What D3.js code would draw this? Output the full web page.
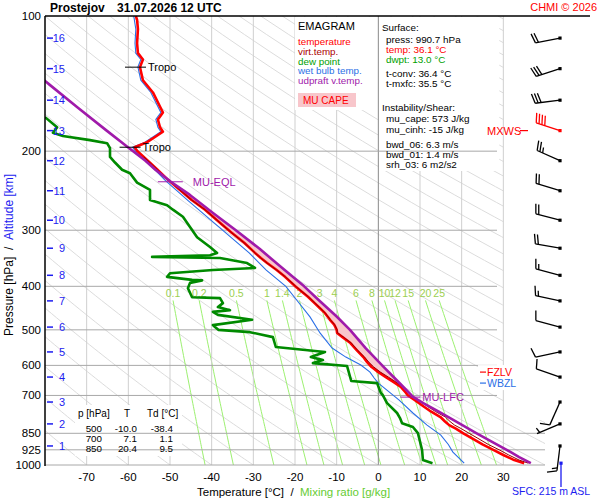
<!DOCTYPE html>
<html><head><meta charset="utf-8">
<script src="https://cdn.jsdelivr.net/npm/d3@7"></script>
<style>body{margin:0;background:#fff}svg text{font-family:"Liberation Sans",Arial,sans-serif}</style>
</head><body><svg id="c" width="600" height="500"></svg>
<script>
// ---------------- data ----------------
const stationName = "Prostejov";
const runTime = "31.07.2026 12 UTC";
const pressureTicks = [100,200,300,400,500,600,700,850,925,1000];
const tempTicks = [-70,-60,-50,-40,-30,-20,-10,0,10,20,30];
const mixRatios = [0.1,0.2,0.5,1,1.4,2,3,4,6,8,10,12,15,20,25];

const tempP = [100,102,107,115,121,125,130,139,148,164,170,177,181,186,191,196,200,206,220,232,244,257,270,292,304,320,337,346,355,368,381,401,422,436,446,459,475,487,493,500,508,519,535,555,575,590,605,621,637,653,670,690,700,716,740,760,782,800,815,830,850,870,900,925,950,975,990.7];
const tempT = [-58.2,-57.9,-57.7,-57.9,-57.7,-56.5,-57.2,-56.5,-54.1,-51.7,-52.9,-52.4,-51.7,-53.6,-55.5,-58.5,-57.8,-56.3,-53.0,-50.4,-47.6,-44.8,-41.6,-37.4,-35.2,-32.2,-29.6,-28.2,-26.7,-24.4,-22.4,-19.8,-16.9,-15.3,-14.2,-12.8,-11.6,-10.6,-10.3,-10.0,-9.9,-8.6,-6.7,-5.2,-3.6,-2.7,-1.6,0.0,1.8,3.6,5.4,6.6,7.1,8.7,10.8,12.6,14.9,16.0,17.0,18.6,20.4,22.3,25.0,27.6,30.0,32.6,35.0];

const virtP = [206,220,232,244,257,270,292,304,320,337,346,355,368,381,401,422,436,446,459,475,487,493,500,508,519,535,555,575,590,605,621,637,653,670,690,700,716,740,760,782,800,815,830,850,870,900,925,950,975,990.7];
const virtT = [-56.3,-53.0,-50.4,-47.6,-44.8,-41.6,-37.4,-35.2,-32.2,-29.6,-28.2,-26.7,-24.4,-22.3,-19.7,-16.8,-15.2,-14.1,-12.7,-11.5,-10.5,-10.2,-9.9,-9.8,-8.4,-6.5,-5.0,-3.3,-2.3,-1.1,0.5,2.4,4.2,6.0,7.3,7.9,9.6,11.8,13.7,16.1,17.2,18.3,19.9,21.8,23.7,26.4,29.0,31.3,33.8,36.0];

const dewP = [168,177,182,185,189,192,197,206,212,220,224,235,244,257,264,270,280,295,311,327,337,341,344,346,355,364,368,374,381,387,388,393,404,423,425,436,445,452,456,463,475,488,493,500,506,519,546,560,575,584,593,602,650,657,691,700,728,766,786,807,823,849,926,975,990.7];
const dewT = [-80.0,-77.1,-78.1,-75.7,-69.2,-65.1,-64.4,-64.4,-63.2,-61.5,-59.6,-57.9,-54.8,-54.8,-50.7,-49.3,-46.9,-45.2,-43.5,-40.4,-38.7,-40.4,-54.3,-38.0,-31.5,-29.6,-39.7,-50.0,-50.7,-44.7,-42.3,-45.2,-45.7,-44.7,-38.0,-37.3,-38.5,-35.6,-39.7,-38.5,-30.3,-39.7,-39.2,-38.4,-30.8,-25.3,-24.6,-12.8,-16.2,-13.3,-15.7,-7.5,-6.5,-0.3,0.6,1.1,2.1,4.5,5.2,5.7,8.3,9.5,10.5,10.7,13.0];

const wetP = [100,107,115,121,125,130,139,148,164,170,177,181,186,191,196,200,206,220,232,257,295,337,368,400,429,468,508,549,575,599,621,640,657,690,717,766,815,858,900,936,990.7];
const wetT = [-58.7,-58.2,-58.4,-58.2,-57.0,-57.7,-57.0,-54.6,-52.2,-53.4,-52.9,-52.2,-54.1,-56.0,-59.0,-58.3,-56.9,-53.6,-51.2,-45.8,-38.3,-31.0,-26.9,-22.2,-19.6,-16.4,-14.0,-11.1,-7.8,-4.2,-2.0,-1.0,0.0,2.8,5.0,8.3,11.7,15.0,16.8,17.9,20.6];

const parcelP = [990.7,960,925,900,850,800,760,730,706,650,604,550,500,467,430,400,360,330,300,275,250,234,220,210,196,180,160,142,139];
const parcelT = [36.6,33.8,30.8,28.4,23.6,18.6,14.4,11.0,8.4,4.6,1.2,-3.0,-6.8,-10.0,-14.2,-17.8,-23.7,-28.5,-34.2,-39.6,-45.3,-49.8,-53.5,-55.9,-60.1,-65.2,-72.1,-79.0,-80.2];

const tropoP = [130,196];
const eqlP = 234, lfcP = 706, fzlvP = 621, wbzlP = 657;

const kmLevels = [1,2,3,4,5,6,7,8,9,10,11,12,13,14,15,16];
const kmP = [907,810,724,637,560,493,431,378,329,285,245,210,180,154,131,112];
const windDir = [187,247,204,289,258,285,282,285,280,285,287,294,288,263,252,259];
const windSpd = [15,5,10,10,10,10,15,15,20,20,20,25,40,30,30,20];

const tableP = [500,700,850];
const tableT = [-10.0,7.1,20.4];
const tableTd = [-38.4,1.1,9.5];

const sfcPress = 990.7, sfcTemp = 36.1, sfcDwpt = 13.0, tConv = 36.4, tMxfc = 35.5;
const muCape = 573, muCinh = -15, bwd06 = 6.3, bwd01 = 1.4, srh03 = 6, sfcHeight = 215;

// ---------------- scales ----------------
const svg = d3.select("#c");
const x = d3.scaleLinear().domain([-80,40]).range([45,545]);
const y = d3.scaleLog().domain([100,1000]).range([16,465]);
const line = d3.line().x(d=>x(d[1])).y(d=>y(d[0]));
function interp(P,T,p){
  for(let i=0;i<P.length-1;i++){
    const a=P[i],b=P[i+1];
    if((p-a)*(p-b)<=0){const f=(Math.log(p)-Math.log(a))/(Math.log(b)-Math.log(a));return T[i]+f*(T[i+1]-T[i]);}
  }
  return T[0];
}

svg.append("rect").attr("width",600).attr("height",500).attr("fill","#fff");
const defs = svg.append("defs");
defs.append("clipPath").attr("id","cpBg").append("path")
  .attr("d",`M${x(-80)},${y(100)}H${x(30)}V${y(794)}H${x(40)}V${y(1000)}H${x(-80)}Z`);
defs.append("clipPath").attr("id","cpPr").append("rect")
  .attr("x",x(-80)).attr("y",y(100)).attr("width",x(40)-x(-80)).attr("height",y(1000)-y(100));

// ---------------- background isopleths ----------------
const bg = svg.append("g").attr("clip-path","url(#cpBg)");
const pSamples = d3.range(100,1001,10);
for(let th=-80; th<=330; th+=10){
  const pts = pSamples.map(p=>[p,(th+273.15)*Math.pow(p/1000,0.286)-273.15]);
  bg.append("path").attr("d",line(pts)).attr("fill","none").attr("stroke","#dcdcdc").attr("stroke-width",1);
}
function tdFromW(w,p){const e=w*p/(622+w);const l=Math.log(e/6.112);return 243.5*l/(17.67-l);}
const mixSamples = d3.range(430,1001,10);
mixRatios.forEach(w=>{
  bg.append("path").attr("d",line(mixSamples.map(p=>[p,tdFromW(w,p)])))
    .attr("fill","none").attr("stroke","#9cf070").attr("stroke-width",1);
});
tempTicks.filter(t=>t!==0).forEach(t=>{
  svg.append("line").attr("x1",x(t)).attr("x2",x(t)).attr("y1",y(100)).attr("y2",y(1000))
    .attr("stroke","#cfcfcf").attr("stroke-width",1);
});
mixRatios.forEach(w=>{
  svg.append("text").attr("x",x(tdFromW(w,430))).attr("y",y(430)-3).attr("text-anchor","middle")
    .attr("font-size",10.5).attr("fill","#9ccf50").text(w);
});

// ---------------- boxes ----------------
svg.append("rect").attr("x",295).attr("y",17).attr("width",x(0)-295).attr("height",93).attr("fill","#fff");
svg.append("rect").attr("x",x(0)).attr("y",17).attr("width",121).attr("height",154).attr("fill","#fff");
svg.append("rect").attr("x",75).attr("y",405).attr("width",107).attr("height",51).attr("fill","#fff");

svg.append("line").attr("x1",x(0)).attr("x2",x(0)).attr("y1",y(100)).attr("y2",y(1000)).attr("stroke","#8a8a8a").attr("stroke-width",1);
pressureTicks.slice(1).forEach(p=>{
  svg.append("line").attr("x1",x(-80)).attr("x2",p>=850?545:497).attr("y1",y(p)).attr("y2",y(p))
    .attr("stroke","#a8a8a8").attr("stroke-width",1);
});

// ---------------- profiles ----------------
const pr = svg.append("g").attr("clip-path","url(#cpPr)");
const capeUp = d3.zip(parcelP,parcelT).filter(d=>d[0]<=lfcP && d[0]>=eqlP);
const capeEnv = d3.zip(virtP,virtT).filter(d=>d[0]<lfcP && d[0]>eqlP);
pr.append("path").attr("d",line(capeUp.concat(capeEnv))+"Z").attr("fill","#f8c6cb").attr("stroke","none");

pr.append("path").attr("d",line(d3.zip(wetP,wetT))).attr("fill","none").attr("stroke","#2a6fe6").attr("stroke-width",1.1);
pr.append("path").attr("d",line(d3.zip(dewP,dewT))).attr("fill","none").attr("stroke","#008a00").attr("stroke-width",2.6).attr("stroke-linejoin","round");
pr.append("path").attr("d",line(d3.zip(tempP,tempT))).attr("fill","none").attr("stroke","#ff0000").attr("stroke-width",2.6).attr("stroke-linejoin","round");
pr.append("path").attr("d",line(d3.zip(virtP,virtT))).attr("fill","none").attr("stroke","#990000").attr("stroke-width",1).attr("stroke-linejoin","round");
pr.append("path").attr("d",line(d3.zip(parcelP,parcelT))).attr("fill","none").attr("stroke","#a01aaa").attr("stroke-width",2.6).attr("stroke-linejoin","round");

// ---------------- markers ----------------
tropoP.forEach(p=>{
  const xx=x(interp(tempP,tempT,p)), yy=y(p);
  svg.append("line").attr("x1",xx-15).attr("x2",xx+6).attr("y1",yy).attr("y2",yy).attr("stroke","#000").attr("stroke-width",1);
  svg.append("text").attr("x",xx+8).attr("y",yy+4).attr("font-size",11).attr("fill","#000").text("Tropo");
});
{
  const xx=x(interp(parcelP,parcelT,eqlP)), yy=y(eqlP);
  svg.append("line").attr("x1",xx-13).attr("x2",xx+12).attr("y1",yy).attr("y2",yy).attr("stroke","#a01aaa").attr("stroke-width",1);
  svg.append("text").attr("x",xx+22).attr("y",yy+4).attr("font-size",11).attr("fill","#a01aaa").text("MU-EQL");
}
{
  const xx=x(interp(parcelP,parcelT,lfcP)), yy=y(lfcP);
  svg.append("line").attr("x1",xx-13).attr("x2",xx+7).attr("y1",yy).attr("y2",yy).attr("stroke","#a01aaa").attr("stroke-width",1);
  svg.append("text").attr("x",xx+9).attr("y",yy+4).attr("font-size",11).attr("fill","#a01aaa").text("MU-LFC");
}
svg.append("rect").attr("x",478).attr("y",y(fzlvP)-7).attr("width",36).attr("height",y(wbzlP)-y(fzlvP)+14).attr("fill","#fff");
[[fzlvP,"FZLV","#ff0000"],[wbzlP,"WBZL","#2a6fe6"]].forEach(([p,t,c])=>{
  svg.append("line").attr("x1",480).attr("x2",486).attr("y1",y(p)).attr("y2",y(p)).attr("stroke",c).attr("stroke-width",1.2);
  svg.append("text").attr("x",487).attr("y",y(p)+4).attr("font-size",10.5).attr("fill",c).text(t);
});

// ---------------- axes ----------------
svg.append("line").attr("x1",45).attr("x2",45).attr("y1",y(100)).attr("y2",y(1000)+1).attr("stroke","#000").attr("stroke-width",1.5);
svg.append("line").attr("x1",45).attr("x2",590).attr("y1",y(100)).attr("y2",y(100)).attr("stroke","#000").attr("stroke-width",1.5);
pressureTicks.forEach(p=>{
  svg.append("text").attr("x",41).attr("y",y(p)+4).attr("text-anchor","end").attr("font-size",11.5).attr("fill","#000").text(p);
});
tempTicks.forEach(t=>{
  svg.append("text").attr("x",x(t)).attr("y",481).attr("text-anchor","middle").attr("font-size",11.5).attr("fill","#000").text(t);
});
kmLevels.forEach((k,i)=>{
  const yy=y(kmP[i]);
  svg.append("line").attr("x1",47).attr("x2",53).attr("y1",yy).attr("y2",yy).attr("stroke","#1c1cf0").attr("stroke-width",1.5);
  svg.append("text").attr("x",65).attr("y",yy+4).attr("text-anchor","end").attr("font-size",11).attr("fill","#1c1cf0").text(k);
});
{
  const t=svg.append("text").attr("x",197).attr("y",496).attr("font-size",11.5);
  t.append("tspan").attr("fill","#000").text("Temperature [°C]\u00a0\u00a0/\u00a0\u00a0");
  t.append("tspan").attr("fill","#66cc33").text("Mixing ratio [g/kg]");
  const l=svg.append("text").attr("transform","translate(13,336) rotate(-90)").attr("font-size",12);
  l.append("tspan").attr("fill","#000").text("Pressure [hPa]\u00a0\u00a0/\u00a0\u00a0");
  l.append("tspan").attr("fill","#1c1cf0").text("Altitude [km]");
}

// ---------------- header ----------------
svg.append("text").attr("x",50).attr("y",12).attr("font-size",12).attr("font-weight","bold").text(stationName);
svg.append("text").attr("x",117).attr("y",12).attr("font-size",12).attr("font-weight","bold").text(runTime);
svg.append("text").attr("x",597).attr("y",11).attr("text-anchor","end").attr("font-size",11).attr("fill","#ff0000").text("CHMI © 2026");

// ---------------- legend ----------------
svg.append("text").attr("x",298).attr("y",30).attr("font-size",11).attr("fill","#000").text("EMAGRAM");
[["temperature","#ff0000"],["virt.temp.","#aa0000"],["dew point","#00a000"],["wet bulb temp.","#2a6fe6"],["udpraft v.temp.","#a01aaa"]]
  .forEach(([t,c],i)=>svg.append("text").attr("x",298).attr("y",45+i*9.8).attr("font-size",9.8).attr("fill",c).text(t));
svg.append("rect").attr("x",298).attr("y",93).attr("width",58).attr("height",14).attr("fill","#f8c6cb");
svg.append("text").attr("x",303).attr("y",104).attr("font-size",10).attr("fill","#ff0000").text("MU CAPE");

// ---------------- info block ----------------
const info = [
  ["Surface:",382,30.7,"#000"],
  [`press: ${sfcPress.toFixed(1)} hPa`,386,43.3,"#000"],
  [`temp: ${sfcTemp.toFixed(1)} °C`,386,53.3,"#ff0000"],
  [`dwpt: ${sfcDwpt.toFixed(1)} °C`,386,63.3,"#00a000"],
  [`t-conv: ${tConv.toFixed(1)} °C`,386,76.7,"#000"],
  [`t-mxfc: ${tMxfc.toFixed(1)} °C`,386,86.7,"#000"],
  ["Instability/Shear:",382,111,"#000"],
  [`mu_cape: ${muCape} J/kg`,386,122,"#000"],
  [`mu_cinh: ${muCinh} J/kg`,386,132.5,"#000"],
  [`bwd_06: ${bwd06.toFixed(1)} m/s`,386,147.5,"#000"],
  [`bwd_01: ${bwd01.toFixed(1)} m/s`,386,157.5,"#000"],
  [`srh_03: ${srh03} m2/s2`,386,167.7,"#000"]
];
info.forEach(([t,xx,yy,c])=>svg.append("text").attr("x",xx).attr("y",yy).attr("font-size",9.9).attr("fill",c).text(t));

// ---------------- table ----------------
svg.append("text").attr("x",78).attr("y",417).attr("font-size",10).text("p [hPa]");
svg.append("text").attr("x",127).attr("y",417).attr("text-anchor","middle").attr("font-size",10).text("T");
svg.append("text").attr("x",147).attr("y",417).attr("font-size",10).text("Td [°C]");
tableP.forEach((p,i)=>{
  const yy=432+i*10;
  svg.append("text").attr("x",102).attr("y",yy).attr("text-anchor","end").attr("font-size",9.8).text(p);
  svg.append("text").attr("x",137).attr("y",yy).attr("text-anchor","end").attr("font-size",9.8).text(tableT[i].toFixed(1));
  svg.append("text").attr("x",173).attr("y",yy).attr("text-anchor","end").attr("font-size",9.8).text(tableTd[i].toFixed(1));
});

// ---------------- wind barbs ----------------
const maxIdx = windSpd.indexOf(d3.max(windSpd));
const bx = 560;
function barb(cx,cy,dir,spd,color){
  const L=25,F=10,S=3;
  const a=dir*Math.PI/180, ux=Math.sin(a), uy=-Math.cos(a);
  const b=(dir+75)*Math.PI/180, fx=Math.sin(b), fy=-Math.cos(b);
  const g=svg.append("g").attr("stroke",color).attr("stroke-width",1.3).attr("fill","none");
  g.append("line").attr("x1",cx).attr("y1",cy).attr("x2",cx+ux*L).attr("y2",cy+uy*L);
  const n10=Math.floor(spd/10), n5=Math.round((spd-n10*10)/5);
  let pos=L;
  for(let i=0;i<n10;i++){
    const px=cx+ux*pos, py=cy+uy*pos;
    g.append("line").attr("x1",px).attr("y1",py).attr("x2",px+fx*F).attr("y2",py+fy*F);
    pos-=S;
  }
  if(n5){ if(n10===0) pos-=S; const px=cx+ux*pos, py=cy+uy*pos;
    g.append("line").attr("x1",px).attr("y1",py).attr("x2",px+fx*F*0.55).attr("y2",py+fy*F*0.55); }
  svg.append("rect").attr("x",cx-1.6).attr("y",cy-1.6).attr("width",3.2).attr("height",3.2).attr("fill",color);
}
kmP.forEach((p,i)=>barb(bx,y(p),windDir[i],windSpd[i],i===maxIdx?"#ff0000":"#000"));
{
  const yy=y(kmP[maxIdx]);
  svg.append("text").attr("x",487).attr("y",yy+4).attr("font-size",11).attr("fill","#ff0000").text("MXWS");
  svg.append("line").attr("x1",520).attr("x2",528).attr("y1",yy).attr("y2",yy).attr("stroke","#ff0000").attr("stroke-width",1.2);
}
svg.append("line").attr("x1",bx+1).attr("x2",bx+1).attr("y1",y(sfcPress)).attr("y2",487).attr("stroke","#1c1cf0").attr("stroke-width",1.3);
svg.append("rect").attr("x",bx-0.6).attr("y",y(sfcPress)-1.6).attr("width",3.2).attr("height",3.2).attr("fill","#1c1cf0");
svg.append("text").attr("x",512).attr("y",495).attr("font-size",10.5).attr("fill","#1c1cf0").text(`SFC: ${sfcHeight} m ASL`);
</script></body></html>
